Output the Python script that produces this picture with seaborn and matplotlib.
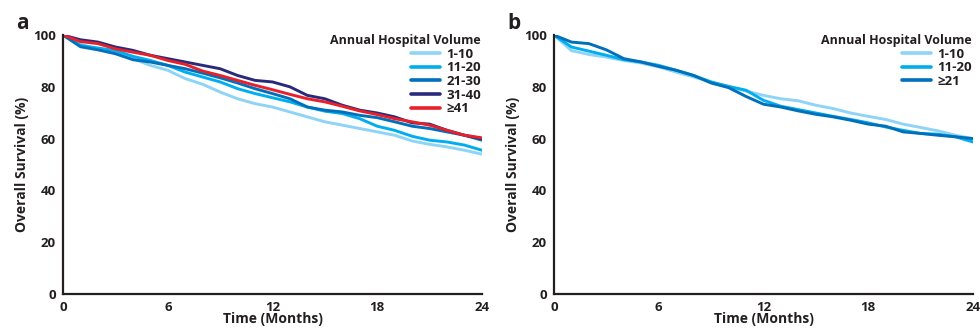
import numpy as np
import pandas as pd
import matplotlib.pyplot as plt
import seaborn as sb

months = list(range(25))

# panel a: five volume groups
a_groups = ['1-10', '11-20', '21-30', '31-40', '≥41']
a_1_10 = [100, 96.5, 94.5, 93.5, 90.9, 88.3, 86.4, 83.2, 81.0, 78.0, 75.4, 73.5, 72.2,
          70.3, 68.4, 66.5, 65.2, 63.9, 62.6, 61.3, 59.1, 57.8, 56.8, 55.5, 54.0]
a_11_20 = [100, 96.0, 95.0, 94.0, 91.8, 90.2, 88.3, 85.7, 83.8, 81.9, 79.3, 77.4, 75.8,
           74.2, 72.2, 70.6, 69.7, 67.7, 64.8, 63.2, 60.9, 59.4, 58.7, 57.5, 55.5]
a_21_30 = [100, 95.5, 94.3, 92.8, 90.5, 89.6, 88.3, 87.0, 85.3, 83.5, 81.5, 79.3, 77.4,
           75.4, 72.2, 71.0, 70.3, 69.0, 68.1, 66.5, 64.8, 63.9, 62.6, 61.3, 59.4]
a_31_40 = [100, 98.2, 97.3, 95.4, 94.1, 92.2, 90.9, 89.6, 88.3, 87.0, 84.4, 82.5, 81.9,
           80.0, 76.7, 75.4, 72.9, 71.0, 69.9, 68.4, 66.1, 65.6, 63.2, 61.3, 60.0]
a_41 = [100, 97.5, 96.7, 94.7, 93.4, 92.2, 90.2, 88.7, 86.1, 84.4, 82.5, 80.6, 78.9,
        77.1, 75.4, 74.2, 72.5, 70.7, 69.3, 67.7, 66.5, 65.2, 63.2, 61.3, 60.3]

# panel b: three volume groups
b_groups = ['1-10', '11-20', '≥21']
b_1_10 = [100, 94.0, 92.5, 91.5, 90.2, 89.2, 87.7, 85.7, 83.8, 81.9, 79.9, 78.4, 76.7,
          75.4, 74.6, 72.9, 71.6, 69.9, 68.6, 67.4, 65.6, 64.3, 63.0, 61.3, 60.0]
b_11_20 = [100, 95.4, 93.8, 92.2, 90.5, 89.6, 88.3, 86.4, 84.4, 81.9, 80.2, 78.7, 74.8,
           72.5, 71.2, 69.9, 68.6, 67.4, 66.1, 64.5, 63.2, 62.0, 61.7, 60.7, 58.7]
b_21 = [100, 97.3, 96.7, 94.3, 90.9, 89.6, 87.9, 86.4, 84.4, 81.5, 79.7, 76.3, 73.3,
        72.2, 70.7, 69.4, 68.4, 67.1, 65.6, 64.8, 62.6, 62.0, 61.3, 60.7, 60.0]

a_colors = ['#8dd4f6', '#00adee', '#0070bb', '#2a2a7c', '#e8202a']
b_colors = ['#8dd4f6', '#00adee', '#0070bb']


def long_form(groups, series):
    rows = []
    for g, vals in zip(groups, series):
        for t, v in zip(months, vals):
            rows.append({'Time': t, 'Survival': v, 'Volume': g})
    return pd.DataFrame(rows)


sb.set_style('white')
plt.rcParams['font.family'] = ['Open Sans', 'DejaVu Sans']

fig = plt.figure(figsize=(9.8, 3.31), dpi=100)
ax_a = fig.add_axes([0.0643, 0.112, 0.4275, 0.782])
ax_b = fig.add_axes([0.5653, 0.112, 0.4275, 0.782])

panels = [(ax_a, a_groups, [a_1_10, a_11_20, a_21_30, a_31_40, a_41], a_colors, 'a'),
          (ax_b, b_groups, [b_1_10, b_11_20, b_21], b_colors, 'b')]

for ax, groups, series, colors, letter in panels:
    df = long_form(groups, series)
    sb.lineplot(data=df, x='Time', y='Survival', hue='Volume', hue_order=groups,
                palette=colors, linewidth=2.1, ax=ax)

    ax.set_xlim(0, 24)
    ax.set_ylim(0, 100)
    ax.set_xticks([0, 6, 12, 18, 24])
    ax.set_yticks([0, 20, 40, 60, 80, 100])
    for s in ['top', 'right']:
        ax.spines[s].set_visible(False)
    for s in ['left', 'bottom']:
        ax.spines[s].set_color('#231f20')
        ax.spines[s].set_linewidth(1.6)
    ax.tick_params(axis='both', direction='out', length=4, width=1.4, color='#231f20',
                   labelsize=9.5, pad=1, labelcolor='#231f20')
    for lab in ax.get_xticklabels() + ax.get_yticklabels():
        lab.set_fontweight('bold')
    ax.set_xlabel('Time (Months)', fontsize=10, fontweight='bold', color='#231f20', labelpad=-1)
    ax.set_ylabel('Overall Survival (%)', fontsize=10, fontweight='bold', color='#231f20', labelpad=3)

    leg = ax.legend(title='Annual Hospital Volume', loc='upper right', frameon=False,
                    fontsize=9.5, title_fontsize=9, handlelength=2.2, handletextpad=0.5,
                    labelspacing=0.05, borderaxespad=0, bbox_to_anchor=(1.01, 1.025),
                    alignment='right')
    leg.get_title().set_fontweight('bold')
    leg.get_title().set_color('#231f20')
    for t in leg.get_texts():
        t.set_fontweight('bold')
        t.set_color('#231f20')
    for h in leg.get_lines():
        h.set_linewidth(2.6)

    ax.text(-0.112, 1.045, letter, transform=ax.transAxes, fontsize=15,
            fontweight='bold', color='#231f20', va='center')

fig.savefig('out.png', dpi=100)
